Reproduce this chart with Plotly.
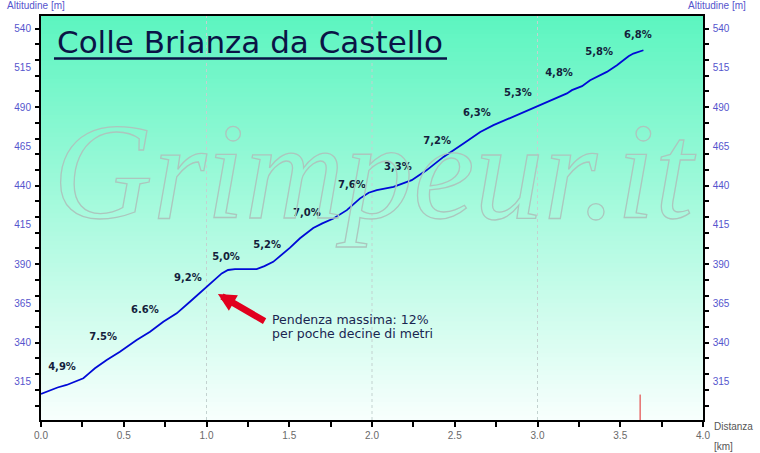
import plotly.graph_objects as go

# ---------------- data ----------------
dist_km = [0.00, 0.05, 0.10, 0.155, 0.20, 0.256, 0.29, 0.326, 0.397, 0.477, 0.578, 0.659,
           0.739, 0.820, 0.900, 1.001, 1.05, 1.092, 1.130, 1.172, 1.303, 1.35, 1.403, 1.444,
           1.505, 1.565, 1.645, 1.70, 1.767, 1.848, 1.928, 1.98, 2.029, 2.130, 2.240, 2.331,
           2.432, 2.553, 2.654, 2.734, 2.825, 2.937, 3.057, 3.178, 3.208, 3.269, 3.318, 3.419,
           3.480, 3.550, 3.579, 3.640]
alt_m = [307.4, 309.5, 311.5, 313.1, 315.0, 317.4, 320.5, 323.7, 329.0, 334.3, 341.7, 347.0,
         353.4, 358.7, 366.1, 375.6, 380.5, 384.1, 386.3, 386.9, 386.9, 388.8, 391.5, 395.0,
         400.5, 406.5, 413.0, 416.0, 419.1, 424.4, 431.9, 435.5, 437.1, 439.2, 443.5, 449.9,
         458.3, 466.8, 474.2, 478.5, 482.7, 488.0, 493.3, 498.7, 500.8, 503.3, 507.1, 512.4,
         516.7, 522.4, 524.1, 526.2]

grade_labels = ["4,9%", "7.5%", "6.6%", "9,2%", "5,0%", "5,2%", "7,0%", "7,6%", "3,3%",
                "7,2%", "6,3%", "5,3%", "4,8%", "5,8%", "6,8%"]
grade_x = [0.127, 0.375, 0.628, 0.888, 1.118, 1.366, 1.607, 1.879, 2.157, 2.393, 2.634,
           2.882, 3.130, 3.372, 3.607]
grade_y = [324.5, 343.6, 360.8, 381.2, 394.5, 402.2, 422.5, 440.3, 451.8, 468.3, 486.1,
           498.8, 511.6, 524.9, 535.7]

y_ticklabels = [315, 340, 365, 390, 415, 440, 465, 490, 515, 540]
y_range = [290.8, 548.0]
x_range = [0.0, 4.0]
grid_x = [1.0, 2.0, 3.0]
end_mark_x = 3.62
end_mark_alt = 307.0

title_text = "Colle Brianza da Castello"
note_line1 = "Pendenza massima: 12%"
note_line2 = "per poche decine di metri"
arrow_head = (1.069, 371.0)
arrow_tail = (1.36, 353.2)
note_pos = (1.384, 354.5)
watermark = "Grimpeur.it"

# ---------------- figure ----------------
fig = go.Figure()

fig.add_trace(go.Scatter(x=dist_km, y=alt_m, mode="lines",
                         line=dict(color="rgb(0,10,215)", width=1.8),
                         showlegend=False, hoverinfo="skip"))
fig.add_trace(go.Scatter(x=[end_mark_x, end_mark_x], y=[y_range[0], end_mark_alt], mode="lines",
                         line=dict(color="rgb(225,40,40)", width=1),
                         showlegend=False, hoverinfo="skip"))
fig.add_trace(go.Scatter(x=grade_x, y=grade_y, mode="text", text=grade_labels,
                         textposition="middle center",
                         textfont=dict(family="DejaVu Sans", size=10, color="rgb(20,30,60)",
                                       weight="bold"),
                         showlegend=False, hoverinfo="skip"))
# invisible traces for overlay axes
for ax in ["y2", "y3", "y4"]:
    fig.add_trace(go.Scatter(x=[None], y=[None], yaxis=ax, showlegend=False, hoverinfo="skip"))

# background gradient bands
shapes = []
n = 90
top = (92, 245, 192)
bot = (248, 255, 253)
for i in range(n):
    f = (i + 0.5) / n
    c = tuple(int(round(bot[k] + (top[k] - bot[k]) * f)) for k in range(3))
    shapes.append(dict(type="rect", xref="paper", yref="paper", x0=0, x1=1,
                       y0=i / n, y1=(i + 1) / n + 0.002, line=dict(width=0),
                       fillcolor="rgb(%d,%d,%d)" % c, layer="below"))
for gx in grid_x:
    shapes.append(dict(type="line", xref="x", yref="paper", x0=gx, x1=gx, y0=0, y1=1,
                       line=dict(color="rgb(195,210,208)", width=1, dash="dot"), layer="below"))
# title underline
shapes.append(dict(type="line", xref="paper", yref="paper", x0=0.0196, x1=0.6133,
                   y0=0.8948, y1=0.8948, line=dict(color="rgb(10,20,70)", width=2.5)))

tickfont_y = dict(family="Liberation Sans", size=10, color="rgb(85,85,205)")
common_y = dict(range=y_range, showgrid=False, zeroline=False, fixedrange=True)

fig.update_layout(
    width=760, height=453,
    margin=dict(l=41, r=57, t=16, b=33),
    paper_bgcolor="white", plot_bgcolor="white",
    shapes=shapes,
    xaxis=dict(range=x_range, dtick=0.5, tick0=0, tickformat=".1f",
               ticks="outside", ticklen=5, tickwidth=1.5, tickcolor="black",
               minor=dict(dtick=0.25, tick0=0, ticks="outside", ticklen=5, tickwidth=1.5,
                          tickcolor="black", showgrid=False),
               showline=True, linecolor="black", linewidth=2, mirror=True,
               showgrid=False, zeroline=False,
               tickfont=dict(family="Liberation Sans", size=10, color="rgb(105,105,105)")),
    yaxis=dict(**common_y, tickmode="array", tickvals=y_ticklabels,
               ticks="outside", ticklen=6, tickcolor="rgba(0,0,0,0)",
               showline=True, linecolor="black", linewidth=2, tickfont=tickfont_y),
    yaxis2=dict(**common_y, overlaying="y", side="right", anchor="x", tickmode="array",
                tickvals=y_ticklabels, ticks="outside", ticklen=6, tickcolor="rgba(0,0,0,0)",
                showline=True, linecolor="black", linewidth=1.5, tickfont=tickfont_y),
    yaxis3=dict(**common_y, overlaying="y", side="left", anchor="x", dtick=10, tick0=0,
                ticks="outside", ticklen=5, tickwidth=1.5, tickcolor="black",
                showticklabels=False, showline=False),
    yaxis4=dict(**common_y, overlaying="y", side="right", anchor="x", dtick=10, tick0=0,
                ticks="outside", ticklen=5, tickwidth=1.5, tickcolor="black",
                showticklabels=False, showline=False),
)

ann = []
ann.append(dict(text=watermark, xref="paper", yref="paper", x=0.5045, y=0.616,
                xanchor="center", yanchor="middle", showarrow=False,
                font=dict(family="Liberation Serif", size=138, style="italic",
                          color="rgba(160,190,182,0.35)")))
ann.append(dict(text=title_text, xref="paper", yref="paper", x=0.0211, y=0.935,
                xanchor="left", yanchor="middle", showarrow=False,
                font=dict(family="DejaVu Sans", size=31, color="rgb(10,20,70)")))
ann.append(dict(text="", x=arrow_head[0], y=arrow_head[1], ax=arrow_tail[0], ay=arrow_tail[1],
                xref="x", yref="y", axref="x", ayref="y", showarrow=True,
                arrowhead=2, arrowsize=0.55, arrowwidth=6.5, arrowcolor="rgb(225,0,30)"))
ann.append(dict(text=note_line1, x=note_pos[0], y=note_pos[1], xref="x", yref="y",
                xanchor="left", yanchor="middle", showarrow=False,
                font=dict(family="DejaVu Sans", size=12.5, color="rgb(25,38,80)")))
ann.append(dict(text=note_line2, x=note_pos[0], y=note_pos[1] - 8.9, xref="x", yref="y",
                xanchor="left", yanchor="middle", showarrow=False,
                font=dict(family="DejaVu Sans", size=12.5, color="rgb(25,38,80)")))
lab_font = dict(family="Liberation Sans", size=10, color="rgb(85,85,205)")
ann.append(dict(text="Altitudine [m]", xref="paper", yref="paper", x=-0.0544, y=1.0248,
                xanchor="left", yanchor="middle", showarrow=False, font=lab_font))
ann.append(dict(text="Altitudine [m]", xref="paper", yref="paper", x=0.9743, y=1.0248,
                xanchor="left", yanchor="middle", showarrow=False, font=lab_font))
dist_font = dict(family="Liberation Sans", size=10, color="rgb(85,85,85)")
ann.append(dict(text="Distanza", xref="paper", yref="paper", x=1.0136, y=-0.0149,
                xanchor="left", yanchor="middle", showarrow=False, font=dist_font))
ann.append(dict(text="[km]", xref="paper", yref="paper", x=1.0136, y=-0.0644,
                xanchor="left", yanchor="middle", showarrow=False, font=dist_font))
fig.update_layout(annotations=ann)

post = """
document.body.style.margin = '0';
document.body.style.padding = '0';
var gd = document.getElementById('{plot_id}');
function outlineWM(){
  gd.querySelectorAll('.annotation-text').forEach(function(t){
    if (t.textContent.indexOf('Grimpeur') >= 0) {
      t.style.fill = 'none';
      t.style.stroke = 'rgb(172,198,190)';
      t.style.strokeWidth = '1.3px';
    }
  });
}
outlineWM();
if (gd.on) { gd.on('plotly_afterplot', outlineWM); }
"""
fig.write_html("out.html", post_script=post, config={"displayModeBar": False})
